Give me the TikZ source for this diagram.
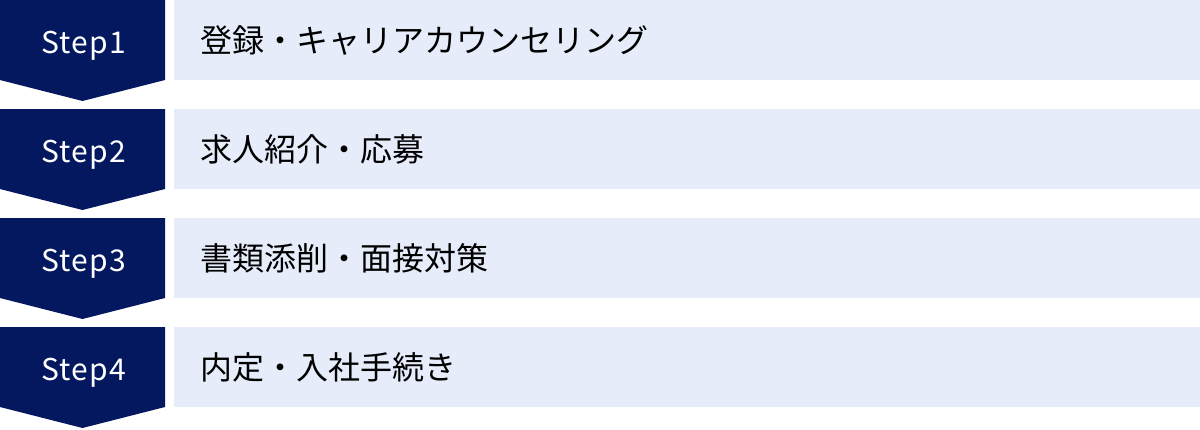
\documentclass[tikz,border=0pt]{standalone}
\usepackage{fontspec}
\setmainfont{Noto Sans CJK JP}
\newfontfamily\jpfont{Noto Sans CJK JP}
\newfontfamily\stepfont[LetterSpace=4]{Noto Sans CJK JP}
\definecolor{navy}{RGB}{4,24,96}
\definecolor{lightbox}{RGB}{230,236,250}
\begin{document}
\begin{tikzpicture}[x=1pt,y=-1pt,
  stepshape/.style={fill=navy},
  textbox/.style={fill=lightbox, draw=none, minimum width=1026pt, minimum height=80pt, inner sep=0pt, anchor=north west},
  steplabel/.style={text=white, font=\stepfont\fontsize{30}{36}\selectfont, inner sep=0pt, anchor=base},
  itemlabel/.style={text=black, font=\jpfont\fontsize{32}{38}\selectfont, inner sep=0pt, anchor=base west}]
\useasboundingbox (0,0) rectangle (1200,429);
\foreach \i/\t in {1/{登録・キャリアカウンセリング},2/{求人紹介・応募},3/{書類添削・面接対策},4/{内定・入社手続き}}{
  \pgfmathsetmacro{\top}{(\i-1)*109}
  \fill[stepshape] (0,\top) -- (165,\top) -- (165,\top+80) -- (82.5,\top+101) -- (0,\top+80) -- cycle;
  \node[textbox] (box\i) at (174,\top) {};
  \node[steplabel] (step\i) at (83.5,\top+53.5) {Step\i};
  \node[itemlabel] (item\i) at (200,\top+52) {\t};
}
\end{tikzpicture}
\end{document}
